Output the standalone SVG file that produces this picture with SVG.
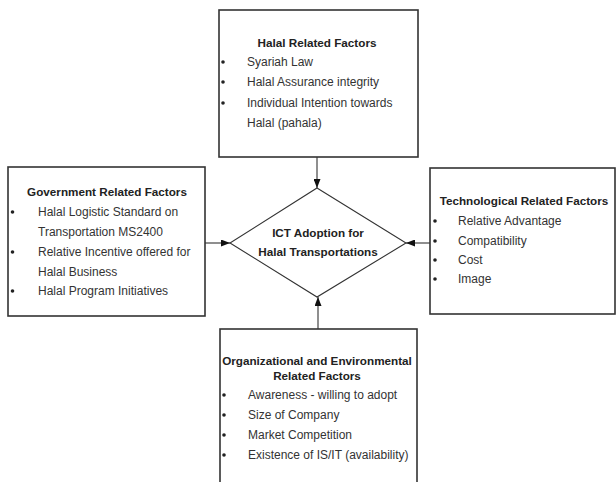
<svg xmlns="http://www.w3.org/2000/svg" width="616" height="482" viewBox="0 0 616 482">
<defs>
<style>
.box{fill:#fff;stroke:#333;stroke-width:1.6}
.dia{fill:#fff;stroke:#333;stroke-width:1.1}
.t{font-family:"Liberation Sans",Arial,sans-serif;font-size:11.7px;font-weight:bold;fill:#222;text-anchor:middle}
.b{font-family:"Liberation Sans",Arial,sans-serif;font-size:12px;fill:#333}
.dot{fill:#222}
.c{stroke:#333;stroke-width:1.1;fill:none}
</style>
<marker id="ah" markerWidth="9" markerHeight="7" refX="9" refY="3.5" orient="auto" markerUnits="userSpaceOnUse">
<path d="M0,0 L9,3.5 L0,7 Z" fill="#111"/>
</marker>
</defs>
<rect width="616" height="482" fill="#fff"/>
<g id="connectors">
<line class="c" x1="317" y1="157" x2="317" y2="188" marker-end="url(#ah)"/>
<line class="c" x1="205" y1="243" x2="230" y2="243" marker-end="url(#ah)"/>
<line class="c" x1="430" y1="243" x2="406" y2="243" marker-end="url(#ah)"/>
<line class="c" x1="318" y1="329" x2="318" y2="297" marker-end="url(#ah)"/>
</g>
<g id="halal">
<rect class="box" x="219" y="10" width="199" height="147"/>
<text class="t" x="317" y="47">Halal Related Factors</text>
<circle class="dot" cx="223" cy="62" r="1.8"/>
<circle class="dot" cx="223" cy="82" r="1.8"/>
<circle class="dot" cx="223" cy="103" r="1.8"/>
<text class="b" x="247" y="66">Syariah Law</text>
<text class="b" x="247" y="86">Halal Assurance integrity</text>
<text class="b" x="247" y="107">Individual Intention towards</text>
<text class="b" x="247" y="127">Halal (pahala)</text>
</g>
<g id="government">
<rect class="box" x="8" y="167" width="197" height="149"/>
<text class="t" x="107" y="196">Government Related Factors</text>
<circle class="dot" cx="12.5" cy="212" r="1.8"/>
<circle class="dot" cx="12.5" cy="252" r="1.8"/>
<circle class="dot" cx="12.5" cy="291" r="1.8"/>
<text class="b" x="38" y="216">Halal Logistic Standard on</text>
<text class="b" x="38" y="236">Transportation MS2400</text>
<text class="b" x="38" y="256">Relative Incentive offered for</text>
<text class="b" x="38" y="276">Halal Business</text>
<text class="b" x="38" y="295">Halal Program Initiatives</text>
</g>
<g id="technological">
<rect class="box" x="430" y="168" width="185" height="146"/>
<text class="t" x="524" y="205">Technological Related Factors</text>
<circle class="dot" cx="435" cy="221" r="1.8"/>
<circle class="dot" cx="435" cy="241" r="1.8"/>
<circle class="dot" cx="435" cy="260" r="1.8"/>
<circle class="dot" cx="435" cy="279" r="1.8"/>
<text class="b" x="458" y="225">Relative Advantage</text>
<text class="b" x="458" y="245">Compatibility</text>
<text class="b" x="458" y="264">Cost</text>
<text class="b" x="458" y="283">Image</text>
</g>
<g id="organizational">
<rect class="box" x="220" y="329" width="197" height="165"/>
<text class="t" x="317" y="365">Organizational and Environmental</text>
<text class="t" x="317" y="380">Related Factors</text>
<circle class="dot" cx="224" cy="395" r="1.8"/>
<circle class="dot" cx="224" cy="415" r="1.8"/>
<circle class="dot" cx="224" cy="435" r="1.8"/>
<circle class="dot" cx="224" cy="455" r="1.8"/>
<text class="b" x="248" y="399">Awareness - willing to adopt</text>
<text class="b" x="248" y="419">Size of Company</text>
<text class="b" x="248" y="439">Market Competition</text>
<text class="b" x="248" y="459">Existence of IS/IT (availability)</text>
</g>
<g id="ict">
<polygon class="dia" points="317,188 406,243 317,297 230,243"/>
<text class="t" x="318" y="237">ICT Adoption for</text>
<text class="t" x="318" y="256">Halal Transportations</text>
</g>
</svg>
